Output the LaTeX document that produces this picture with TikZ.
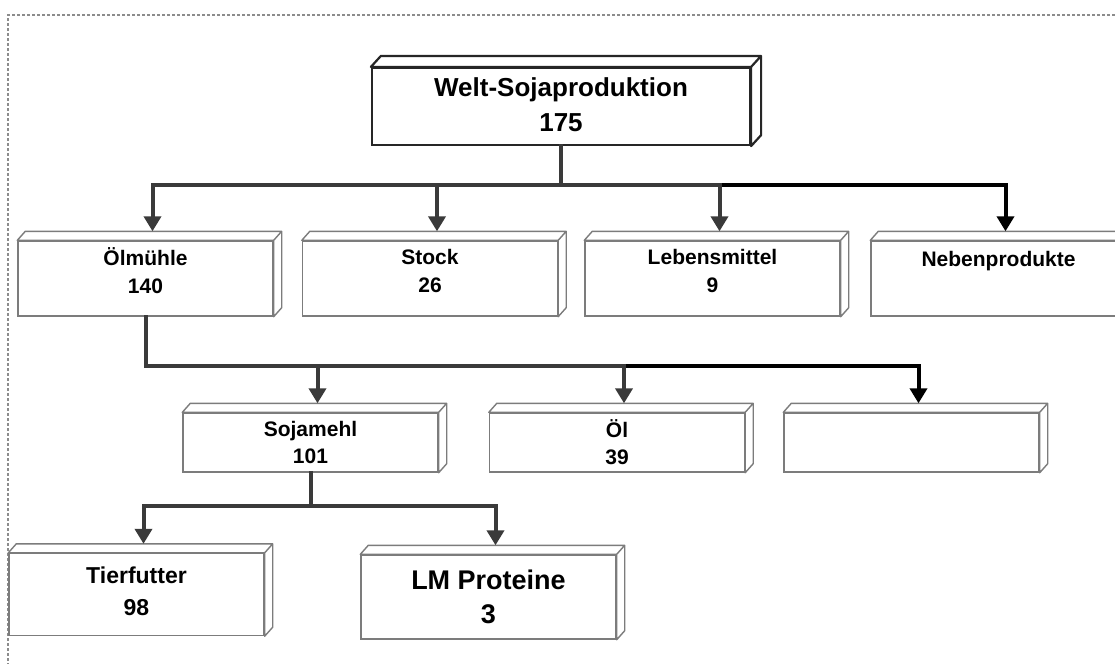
\documentclass[tikz,border=0pt]{standalone}
\usepackage{fontspec}
\setmainfont{Liberation Sans}
\usetikzlibrary{arrows.meta}

\definecolor{boxgray}{HTML}{7C7C7C}
\definecolor{linegray}{HTML}{3A3A3A}

% pushes the text of a box upwards
\newcommand{\lift}[1]{\rule[-#1]{0pt}{#1}}

\tikzset{
  slab/.style={draw=boxgray, line width=1.4pt, fill=white, inner sep=0pt,
    minimum width=255pt, minimum height=75pt, align=center,
    font=\bfseries\fontsize{21}{28}\selectfont},
  topslab/.style={slab, draw=black!85, line width=2.2pt,
    minimum width=378pt, minimum height=77pt,
    font=\bfseries\fontsize{26}{35}\selectfont},
  face/.style={draw=boxgray, line width=1.4pt, fill=white, line join=round},
  bar/.style={draw=linegray, line width=4pt, line cap=rect},
  flow/.style={bar, -{Triangle[width=17pt,length=15pt]}},
}

\begin{document}
\begin{tikzpicture}[x=1pt, y=1pt]
  \useasboundingbox (0,0) rectangle (1115,-664);

  % dotted frame
  \draw[black!45, line width=1.2pt, dash pattern=on 3pt off 2pt]
    (1115,-15) -- (8,-15) -- (8,-664);

  % boxes
  \node[topslab] (welt) at (561,-106.5) {Welt-Sojaproduktion\\175\lift{4pt}};

  \node[slab] (olm)   at (145.5,-278.5) {Ölmühle\\140\lift{15pt}};
  \node[slab] (stock) at (430,-278.5)   {Stock\\26\lift{15pt}};
  \node[slab] (leb)   at (712.5,-278.5) {Lebensmittel\\9\lift{15pt}};
  \node[slab] (neben) at (998.5,-278.5) {Nebenprodukte\lift{39pt}};

  \node[slab, minimum height=59pt, font=\bfseries\fontsize{21}{27}\selectfont]
    (soja) at (310.5,-442.5) {Sojamehl\\101};
  \node[slab, minimum height=59pt, font=\bfseries\fontsize{21}{27}\selectfont]
    (oel) at (617,-442.5) {Öl\\39};
  \node[slab, minimum height=59pt] (leer) at (911.5,-442.5) {};

  \node[slab, minimum height=82pt, font=\bfseries\fontsize{23}{32}\selectfont]
    (tier) at (136.5,-594.5) {Tierfutter\\98\lift{6pt}};
  \node[slab, minimum height=84pt, font=\bfseries\fontsize{27}{34}\selectfont]
    (lmp) at (488.5,-597) {LM Proteine\\3};

  % depth of the boxes
  \draw[face, draw=black!85, line width=2.2pt] (welt.north west) -- ++(10,11)
    -- ([shift={(10,11)}]welt.north east) -- ([shift={(10,11)}]welt.south east)
    -- (welt.south east) -- (welt.north east) -- cycle
    (welt.north east) -- ++(10,11);
  \foreach \n in {olm,stock,leb,neben,soja,oel,leer,tier,lmp}
    \draw[face] (\n.north west) -- ++(8,9)
      -- ([shift={(8,9)}]\n.north east) -- ([shift={(8,9)}]\n.south east)
      -- (\n.south east) -- (\n.north east) -- cycle
      (\n.north east) -- ++(8,9);

  % where the arrows meet the boxes
  \foreach \n in {olm,stock,leb,neben,soja,oel,leer,tier,lmp}
    \coordinate (\n-in) at ([shift={(7,9)}]\n.north);

  % levels of the bars
  \coordinate (rowA) at (0,-185);
  \coordinate (rowB) at (0,-366);
  \coordinate (rowC) at (0,-506);

  % first level
  \draw[bar] (welt.south) -- (welt.south |- rowA);
  \draw[bar] (olm-in |- rowA) -- (leb-in |- rowA);
  \draw[bar, draw=black] (leb-in |- rowA) -- (neben-in |- rowA);
  \draw[flow] (olm-in |- rowA) -- (olm-in);
  \draw[flow] (stock-in |- rowA) -- (stock-in);
  \draw[flow] (leb-in |- rowA) -- (leb-in);
  \draw[flow, draw=black] (neben-in |- rowA) -- (neben-in);

  % second level
  \draw[bar] (olm.south) -- (olm.south |- rowB) -- (oel-in |- rowB);
  \draw[bar, draw=black] (oel-in |- rowB) -- (leer-in |- rowB);
  \draw[flow] (soja-in |- rowB) -- (soja-in);
  \draw[flow] (oel-in |- rowB) -- (oel-in);
  \draw[flow, draw=black] (leer-in |- rowB) -- (leer-in);

  % third level
  \draw[bar] (soja.south) -- (soja.south |- rowC);
  \draw[bar] (tier-in |- rowC) -- (lmp-in |- rowC);
  \draw[flow] (tier-in |- rowC) -- (tier-in);
  \draw[flow] (lmp-in |- rowC) -- (lmp-in);

\end{tikzpicture}
\end{document}
